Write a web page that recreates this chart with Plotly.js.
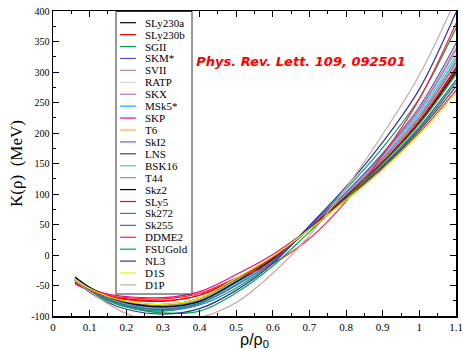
<!DOCTYPE html>
<html><head><meta charset="utf-8">
<script src="https://cdn.plot.ly/plotly-3.0.1.min.js"></script>
<style>html,body{margin:0;padding:0;background:#fff}</style>
</head><body>
<div id="chart" style="width:463px;height:350px"></div>
<script>
// density grid (rho/rho0)
const rho = [0.06, 0.1, 0.15, 0.2, 0.3, 0.4, 0.5, 0.6, 0.7, 0.8, 0.9, 1.0, 1.1];

const names = ["SLy230a","SLy230b","SGII","SKM*","SVII","RATP","SKX","MSk5*","SKP","T6","SkI2","LNS","BSK16","T44","Skz2","SLy5","Sk272","Sk255","DDME2","FSUGold","NL3","D1S","D1P"];
const colors = ["#000000","#ff0000","#00a040","#5050b0","#bc8f8f","#d8d8d8","#b070c0","#10b0f0","#e0108a","#ffb040","#a050b0","#6e2850","#40c8e0","#7a9e7a","#000000","#ff0000","#00a060","#5a5ab4","#ff2040","#00a840","#3030a8","#f0f000","#c8a8a0"];

// K(rho) in MeV, read at the rho grid
const K_SLy230a = [-37, -54, -69, -79, -86, -77, -44, -7, 44, 97, 154, 222, 308];
const K_SLy230b = [-44, -57, -67, -72, -75, -66, -39, -5, 44, 96, 152, 218, 302];
const K_SGII    = [-40, -55, -68, -76, -81, -71, -40, -4, 43, 93, 145, 207, 282];
const K_SKMs    = [-40, -58, -73, -83, -90, -80, -45, -6, 43, 94, 147, 210, 287];
const K_SVII    = [-39, -56, -71, -81, -88, -79, -48, -10, 45, 102, 165, 239, 340];
const K_RATP    = [-38, -55, -69, -78, -83, -73, -43, -7, 44, 97, 155, 223, 311];
const K_SKX     = [-41, -57, -71, -80, -86, -76, -47, -9, 45, 102, 164, 237, 336];
const K_MSk5s   = [-40, -58, -74, -84, -91, -80, -49, -9, 44, 99, 159, 229, 322];
const K_SKP     = [-44, -55, -64, -68, -70, -60, -32, 1, 43, 90, 141, 200, 270];
const K_T6      = [-39, -55, -69, -78, -84, -74, -44, -8, 44, 99, 158, 227, 318];
const K_SkI2    = [-40, -56, -70, -79, -85, -76, -45, -8, 44, 98, 157, 225, 315];
const K_LNS     = [-41, -56, -69, -77, -82, -71, -39, -3, 43, 92, 144, 204, 276];
const K_BSK16   = [-39, -56, -71, -81, -87, -77, -47, -9, 45, 100, 161, 233, 328];
const K_T44     = [-40, -56, -70, -79, -84, -74, -43, -6, 43, 95, 151, 216, 298];
const K_Skz2    = [-36, -53, -68, -78, -85, -76, -44, -7, 43, 96, 152, 217, 300];
const K_SLy5    = [-46, -58, -68, -73, -76, -66, -38, -5, 44, 97, 153, 220, 305];
const K_Sk272   = [-41, -58, -74, -85, -92, -82, -54, -12, 47, 108, 176, 257, 372];
const K_Sk255   = [-40, -57, -72, -82, -89, -79, -50, -10, 46, 103, 167, 243, 347];
const K_DDME2   = [-48, -58, -66, -70, -72, -63, -38, -14, 27, 88, 164, 256, 380];
const K_FSUGold = [-42, -60, -75, -85, -95, -92, -62, -18, 38, 93, 150, 215, 296];
const K_NL3     = [-42, -61, -78, -89, -97, -88, -58, -14, 48, 112, 185, 272, 398];
const K_D1S     = [-40, -55, -68, -76, -81, -71, -38, -2, 42, 90, 140, 198, 266];
const K_D1P     = [-42, -60, -80, -96, -113, -103, -78, -30, 32, 110, 198, 295, 420];

const series = [K_SLy230a,K_SLy230b,K_SGII,K_SKMs,K_SVII,K_RATP,K_SKX,K_MSk5s,K_SKP,K_T6,K_SkI2,K_LNS,K_BSK16,K_T44,K_Skz2,K_SLy5,K_Sk272,K_Sk255,K_DDME2,K_FSUGold,K_NL3,K_D1S,K_D1P];

const xTickVals = [0,0.1,0.2,0.3,0.4,0.5,0.6,0.7,0.8,0.9,1.0,1.1];
const xTickText = ["0","0.1","0.2","0.3","0.4","0.5","0.6","0.7","0.8","0.9","1","1.1"];
const yTickVals = [-100,-50,0,50,100,150,200,250,300,350,400];
const yTickText = ["-100","-50","0","50","100","150","200","250","300","350","400"];

const W = 463, H = 350, M = {l:53, r:7, t:11, b:34};
const pw = W - M.l - M.r, ph = H - M.t - M.b;
const px2x = p => (p - M.l) / pw;
const py2y = p => (H - M.b - p) / ph;

const traces = series.map((k, i) => ({
  x: rho, y: k, type: 'scatter', mode: 'lines', name: names[i],
  line: {color: colors[i], width: 1.2, shape: 'spline'},
  showlegend: false, hoverinfo: 'skip'
}));

const serif = 'Liberation Serif, Times New Roman, serif';
const shapes = [{
  type: 'rect', xref: 'paper', yref: 'paper', layer: 'above',
  x0: px2x(116), x1: px2x(192), y0: py2y(294), y1: py2y(11.5),
  fillcolor: '#ffffff', line: {color: '#333333', width: 1}
}];
const annotations = [];
names.forEach((n, i) => {
  const yy = 22.7 + 11.92 * i;
  shapes.push({type: 'line', xref: 'paper', yref: 'paper', layer: 'above',
    x0: px2x(120), x1: px2x(136), y0: py2y(yy), y1: py2y(yy),
    line: {color: colors[i], width: 1.2}});
  annotations.push({xref: 'paper', yref: 'paper', x: px2x(143), y: py2y(yy),
    xanchor: 'left', yanchor: 'middle', showarrow: false, text: n,
    font: {family: serif, size: 11, color: '#000'}});
});

const layout = {
  width: W, height: H, margin: M,
  paper_bgcolor: '#fff', plot_bgcolor: '#fff', showlegend: false,
  title: {text: '<b><i>Phys. Rev. Lett. 109, 092501</i></b>', xref: 'paper', yref: 'paper',
    x: px2x(301), xanchor: 'center', y: py2y(61), yanchor: 'middle',
    font: {family: 'DejaVu Sans, sans-serif', size: 13, color: '#ff0000'}},
  xaxis: {range: [0, 1.1], tickmode: 'array', tickvals: xTickVals, ticktext: xTickText,
    ticks: 'inside', ticklen: 6, tickwidth: 1, tickcolor: '#000', mirror: 'ticks',
    showline: true, linecolor: '#000', linewidth: 1.5, showgrid: false, zeroline: false,
    minor: {tickmode: 'linear', tick0: 0, dtick: 0.05, ticks: 'inside', ticklen: 3, tickcolor: '#000', showgrid: false},
    tickfont: {family: serif, size: 11, color: '#000'},
    title: {text: 'ρ/ρ<sub>0</sub>', font: {family: 'Liberation Sans, Arial, sans-serif', size: 16, color: '#000'}, standoff: 4}},
  yaxis: {range: [-100, 400], tickmode: 'array', tickvals: yTickVals, ticktext: yTickText,
    ticks: 'inside', ticklen: 6, tickwidth: 1, tickcolor: '#000', mirror: 'ticks',
    showline: true, linecolor: '#000', linewidth: 1.5, showgrid: false, zeroline: false,
    minor: {tickmode: 'linear', tick0: 0, dtick: 25, ticks: 'inside', ticklen: 3, tickcolor: '#000', showgrid: false},
    tickfont: {family: serif, size: 10, color: '#000'},
    title: {text: 'K(ρ)\u00a0\u00a0(MeV)', font: {family: serif, size: 17, color: '#000'}, standoff: 4}},
  shapes: shapes, annotations: annotations
};

Plotly.newPlot('chart', traces, layout, {staticPlot: true, displayModeBar: false});
</script>
</body></html>
